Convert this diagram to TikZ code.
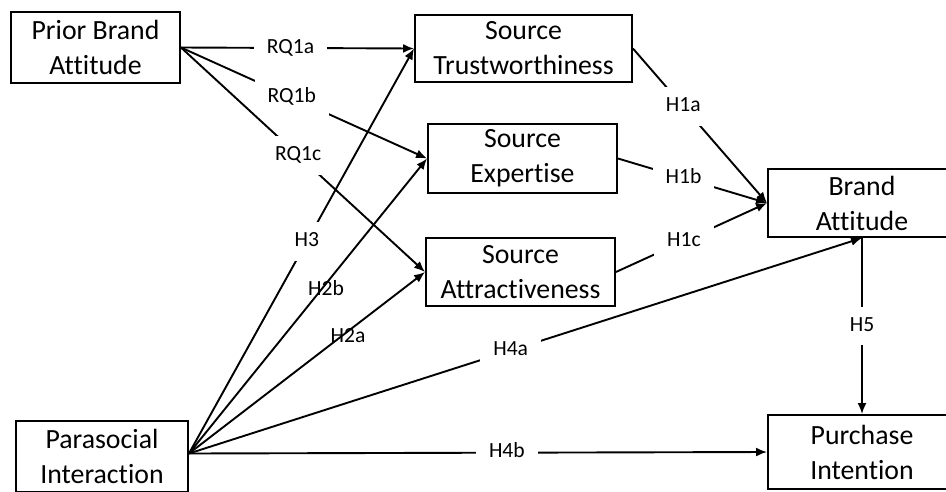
\documentclass[tikz,border=0pt]{standalone}
\usepackage{fontspec}
\setmainfont{Carlito}[Ligatures={NoCommon}]
\usetikzlibrary{arrows.meta}
\tikzset{
  box/.style={draw, line width=1.9pt, align=center, inner sep=0pt,
    font=\fontsize{27.8}{35}\selectfont},
  conn/.style={line width=1.9pt, -{Latex[length=11pt,width=9pt]}},
  lab/.style={font=\fontsize{21.6}{24}\selectfont, text height=15.5pt, text depth=5pt,
    inner xsep=13pt, inner ysep=9pt},
  labw/.style={lab, fill=white}
}
\begin{document}
\begin{tikzpicture}[x=1pt,y=-1pt]
\useasboundingbox (0,0) rectangle (946,491);
\clip (0,0) rectangle (946,491);
\fill[white] (0,0) rectangle (946,491);
% boxes
\node[box, minimum width=169pt, minimum height=71pt] (pba) at (95.5,47.5) {Prior Brand\\Attitude};
\node[box, minimum width=217pt, minimum height=67pt] (st) at (523.5,48.5) {Source\\Trustworthiness};
\node[box, minimum width=189pt, minimum height=69pt] (se) at (522.5,158.5) {Source\\Expertise};
\node[box, minimum width=189pt, minimum height=68pt] (sa) at (520.5,272) {Source\\Attractiveness};
\node[box, minimum width=188pt, minimum height=68pt] (ba) at (862,203) {Brand\\Attitude};
\node[box, minimum width=188pt, minimum height=74pt] (pi) at (862,452) {Purchase\\Intention};
\node[box, minimum width=172pt, minimum height=71pt] (psi) at (102,456.5) {Parasocial\\Interaction};
\coordinate (pso) at ([yshift=3pt]psi.east);
% prior brand attitude paths
\draw[conn] (pba.east) -- node[labw, pos=0.47] {RQ1a} (st.west);
\draw[conn] (pba.east) -- node[labw, pos=0.45] {RQ1b} (se.west);
\draw[conn] (pba.east) -- node[labw, pos=0.48] {RQ1c} (sa.west);
% source to brand attitude
\draw[conn] (st.east) -- node[labw, pos=0.375] {H1a} (ba.west);
\draw[conn] (se.east) -- node[labw, pos=0.44] {H1b} (ba.west);
\draw[conn] (sa.east) -- node[labw, pos=0.45] {H1c} (ba.west);
% parasocial interaction paths
\draw[conn] (pso) -- node[labw, pos=0.524] {H3} (st.west);
\draw[conn] (pso) -- node[lab, pos=0.555, xshift=5pt] {H2b} (se.west);
\draw[conn] (pso) -- node[lab, pos=0.64, xshift=8pt] {H2a} (sa.west);
\draw[conn] (pso) -- node[labw, pos=0.478] {H4a} (ba.south);
\draw[conn] (pso) -- node[labw, pos=0.55] {H4b} (pi.west);
% brand attitude to purchase intention
\draw[conn] (ba.south) -- node[labw, pos=0.5] {H5} (pi.north);
\end{tikzpicture}
\end{document}
